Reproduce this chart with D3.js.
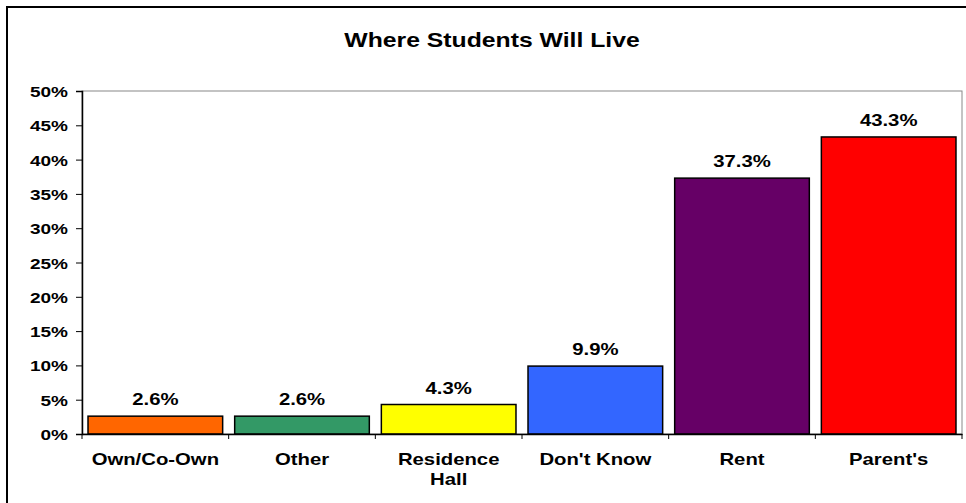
<!DOCTYPE html>
<html>
<head>
<meta charset="utf-8">
<script src="https://cdn.jsdelivr.net/npm/d3@7"></script>
<style>
  html, body { margin: 0; padding: 0; background: #fff; }
  svg { display: block; }
  text { font-family: Arial, "Liberation Sans", sans-serif; font-weight: bold; fill: #000; }
</style>
</head>
<body>
<svg id="chart" width="966" height="503"></svg>
<script>
const title = "Where Students Will Live";
const categories = ["Own/Co-Own", "Other", "Residence Hall", "Don't Know", "Rent", "Parent's"];
const categoryLines = [["Own/Co-Own"], ["Other"], ["Residence", "Hall"], ["Don't Know"], ["Rent"], ["Parent's"]];
const values = [2.6, 2.6, 4.3, 9.9, 37.3, 43.3];
const colors = ["#FF6600", "#339966", "#FFFF00", "#3366FF", "#660066", "#FF0000"];
const yTicks = [0, 5, 10, 15, 20, 25, 30, 35, 40, 45, 50];

const SX = 1.27; // horizontal stretch of text seen in the reference
const svg = d3.select("#chart");
const plot = { left: 82, right: 962, top: 91, bottom: 434 };

// outer chart border (only top/left visible)
svg.append("rect")
  .attr("x", 7).attr("y", 7).attr("width", 1200).attr("height", 800)
  .attr("fill", "none").attr("stroke", "#000").attr("stroke-width", 2);

const x = d3.scaleBand().domain(categories).range([plot.left, plot.right])
  .paddingInner(0.082).paddingOuter(0.041);
const xb = d3.scaleBand().domain(categories).range([plot.left, plot.right]).padding(0);
const y = d3.scaleLinear().domain([0, 50]).range([plot.bottom, plot.top]);

// plot area border (gray)
svg.append("rect")
  .attr("x", plot.left).attr("y", plot.top)
  .attr("width", plot.right - plot.left).attr("height", plot.bottom - plot.top)
  .attr("fill", "none").attr("stroke", "#888").attr("stroke-width", 1);

// title
svg.append("text")
  .attr("transform", `translate(492,47) scale(${SX},1)`)
  .attr("text-anchor", "middle").style("font-size", "19.5px")
  .text(title);

// bars
svg.selectAll("rect.bar").data(values).enter().append("rect")
  .attr("class", "bar")
  .attr("x", (d, i) => x(categories[i]))
  .attr("width", x.bandwidth())
  .attr("y", d => y(d))
  .attr("height", d => y(0) - y(d))
  .attr("fill", (d, i) => colors[i])
  .attr("stroke", "#000").attr("stroke-width", 1.5);

// value labels
svg.selectAll("text.val").data(values).enter().append("text")
  .attr("class", "val")
  .attr("transform", (d, i) => `translate(${x(categories[i]) + x.bandwidth() / 2},${y(d) - 11}) scale(${SX},1)`)
  .attr("text-anchor", "middle").style("font-size", "16px")
  .text(d => d.toFixed(1) + "%");

// y axis
const yAxis = svg.append("g")
  .attr("transform", `translate(${plot.left},0)`)
  .call(d3.axisLeft(y).tickValues(yTicks).tickSize(6).tickFormat(d => d + "%"));
yAxis.select(".domain").attr("stroke", "#000").attr("stroke-width", 1.5);
yAxis.selectAll(".tick line").attr("stroke", "#000");
yAxis.selectAll(".tick text")
  .attr("x", null).attr("dy", null)
  .attr("transform", `translate(-14,5.5) scale(${SX},1)`)
  .style("font-size", "15px").attr("text-anchor", "end");

// x axis
const xAxis = svg.append("g")
  .attr("transform", `translate(0,${plot.bottom})`)
  .call(d3.axisBottom(xb).tickSize(0).tickFormat(""));
xAxis.select(".domain").attr("stroke", "#000").attr("stroke-width", 1.5);
xAxis.selectAll(".tick").remove();
const boundaries = categories.map(c => xb(c)).concat([xb(categories[categories.length - 1]) + xb.bandwidth()]);
xAxis.selectAll("line.bt").data(boundaries).enter().append("line")
  .attr("class", "bt")
  .attr("x1", d => d).attr("x2", d => d).attr("y1", 0).attr("y2", 5)
  .attr("stroke", "#000");

// category labels
categoryLines.forEach((lines, i) => {
  lines.forEach((ln, j) => {
    svg.append("text")
      .attr("transform", `translate(${xb(categories[i]) + xb.bandwidth() / 2},${465 + j * 20}) scale(${SX},1)`)
      .attr("text-anchor", "middle").style("font-size", "16px")
      .text(ln);
  });
});
</script>
</body>
</html>
